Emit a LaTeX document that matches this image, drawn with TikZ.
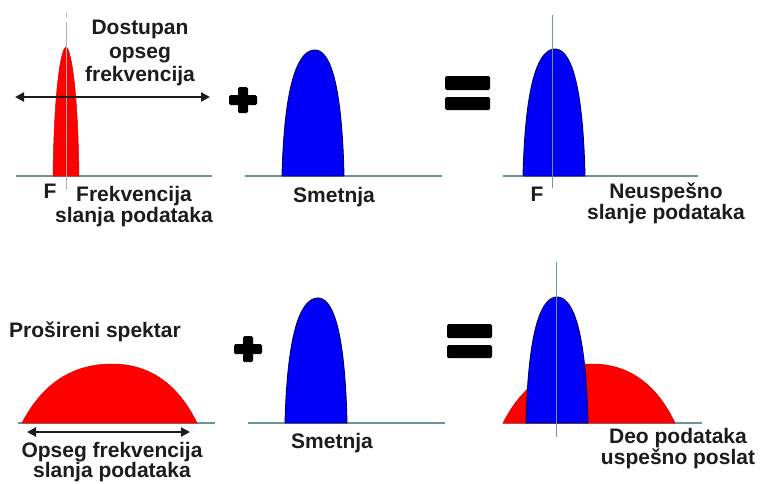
\documentclass[tikz,border=0pt]{standalone}
\usepackage{fontspec}
\setmainfont{Liberation Sans}
\usetikzlibrary{arrows.meta}
\definecolor{axis}{RGB}{105,150,150}
\definecolor{redfill}{RGB}{255,0,0}
\definecolor{bluefill}{RGB}{0,0,250}
\definecolor{ink}{RGB}{28,28,28}
\tikzset{
  lbl/.style={font=\bfseries\fontsize{21}{18.5}\selectfont, text=ink, align=center, inner sep=0pt},
  lblwide/.style={lbl, font=\bfseries\fontsize{21}{23.5}\selectfont},
  axisline/.style={draw=axis, line width=1.1pt},
  vline/.style={draw=axis, line width=1pt},
  symbar/.style={fill=black, rounded corners=1.5pt},
  bluebump/.style={fill=bluefill, draw=black!60!blue, line width=0.9pt},
  redbump/.style={fill=redfill, draw=red!85!black, line width=0.5pt},
  dblarrow/.style={draw=ink, line width=2pt, {Triangle[length=9pt,width=9pt]}-{Triangle[length=9pt,width=9pt]}},
}
% #1 style, #2 left x, #3 right x, #4 peak x, #5 peak y, #6 base y, #7 base-x factor, #8 base-y factor, #9 top factor
\newcommand\mybump[9]{%
  \pgfmathsetmacro\wl{#4-#2}\pgfmathsetmacro\wr{#3-#4}\pgfmathsetmacro\hh{#6-#5}%
  \path[#1] (#2,#6) .. controls ({#2+#7*\wl},{#6-#8*\hh}) and ({#4-#9*\wl},#5) .. (#4,#5)
    .. controls ({#4+#9*\wr},#5) and ({#3-#7*\wr},{#6-#8*\hh}) .. (#3,#6) -- cycle;
}
\newcommand\myplus[2]{%
  \fill[symbar] ({#1-14},{#2-5}) rectangle ({#1+14},{#2+5});
  \fill[symbar] ({#1-5},{#2-13}) rectangle ({#1+5},{#2+13});
}
\newcommand\myequals[3]{% x left, y top, x right
  \fill[symbar] (#1,#2) rectangle (#3,{#2+14});
  \fill[symbar] (#1,{#2+21}) rectangle (#3,{#2+34});
}
\begin{document}
\begin{tikzpicture}[x=1pt,y=-1pt]
\useasboundingbox[fill=white] (0,0) rectangle (760,483);

% ---------- top row ----------
% panel 1
\coordinate (b1l) at (16,176); \coordinate (b1r) at (212,176);
\draw[axisline] (b1l) -- (b1r);
\mybump{redbump}{53}{79}{66}{47}{176}{0.1}{0.75}{0.3}
\draw[draw=gray!60, line width=1pt] (66.5,22) -- (66.5,190);
\draw[draw=gray!60, line width=1pt] (66.5,13) -- (66.5,17);
\coordinate (a1l) at (15,97); \coordinate (a1r) at (210,97);
\draw[dblarrow] (a1l) -- (a1r);
\node[lblwide] (dost) at (140,53) {Dostupan\\opseg\\frekvencija};
\node[lbl, anchor=base] (F1) at (50,198) {F};
\node[lbl] (frek) at (134,206.5) {Frekvencija\\slanja podataka};

% panel 2
\node (plus1) at (243,100) {};
\myplus{243}{100}
\coordinate (b2l) at (245,176); \coordinate (b2r) at (442,176);
\draw[axisline] (b2l) -- (b2r);
\mybump{bluebump}{282}{344}{315}{50}{176}{0.08}{0.8}{0.45}
\node[lbl, anchor=base] (sm1) at (334,202) {Smetnja};

% panel 3
\node (eq1) at (467,93) {};
\myequals{445}{76}{490}
\coordinate (b3l) at (503,176); \coordinate (b3r) at (698,176);
\draw[axisline] (b3l) -- (b3r);
\mybump{bluebump}{523}{585}{555}{49}{176}{0.08}{0.8}{0.45}
\coordinate (v3t) at (552,15); \coordinate (v3b) at (552,188);
\draw[vline] (v3t) -- (v3b);
\node[lbl, anchor=base] (F3) at (537,201) {F};
\node[lbl] (neus) at (666,203.5) {Neuspešno\\slanje podataka};

% ---------- bottom row ----------
% panel 4
\node[lbl, anchor=base] (pros) at (95,337) {Prošireni spektar};
\coordinate (b4l) at (18,423); \coordinate (b4r) at (215,423);
\draw[axisline] (b4l) -- (b4r);
\mybump{redbump}{22}{197}{112}{364}{423}{0.22}{0.65}{0.45}
\coordinate (a4l) at (27,432); \coordinate (a4r) at (190,432);
\draw[dblarrow] (a4l) -- (a4r);
\node[lbl] (opseg) at (112,462) {Opseg frekvencija\\slanja podataka};

% panel 5
\node (plus2) at (248,349) {};
\myplus{248}{349}
\coordinate (b5l) at (248,423); \coordinate (b5r) at (445,423);
\draw[axisline] (b5l) -- (b5r);
\mybump{bluebump}{285}{347}{318}{298}{423}{0.08}{0.8}{0.45}
\node[lbl, anchor=base] (sm2) at (332,448) {Smetnja};

% panel 6
\node (eq2) at (469,340) {};
\myequals{447}{324}{492}
\coordinate (b6l) at (503,423); \coordinate (b6r) at (702,423);
\draw[axisline] (b6l) -- (b6r);
\mybump{redbump}{503}{675}{592}{364}{423}{0.22}{0.65}{0.45}
\mybump{bluebump}{526}{588}{557}{297}{423}{0.08}{0.8}{0.45}
\coordinate (v6t) at (556,262); \coordinate (v6b) at (556,437);
\draw[vline] (v6t) -- (v6b);
\node[lbl] (deo) at (678,448.7) {Deo podataka\\uspešno poslat};
\end{tikzpicture}
\end{document}
